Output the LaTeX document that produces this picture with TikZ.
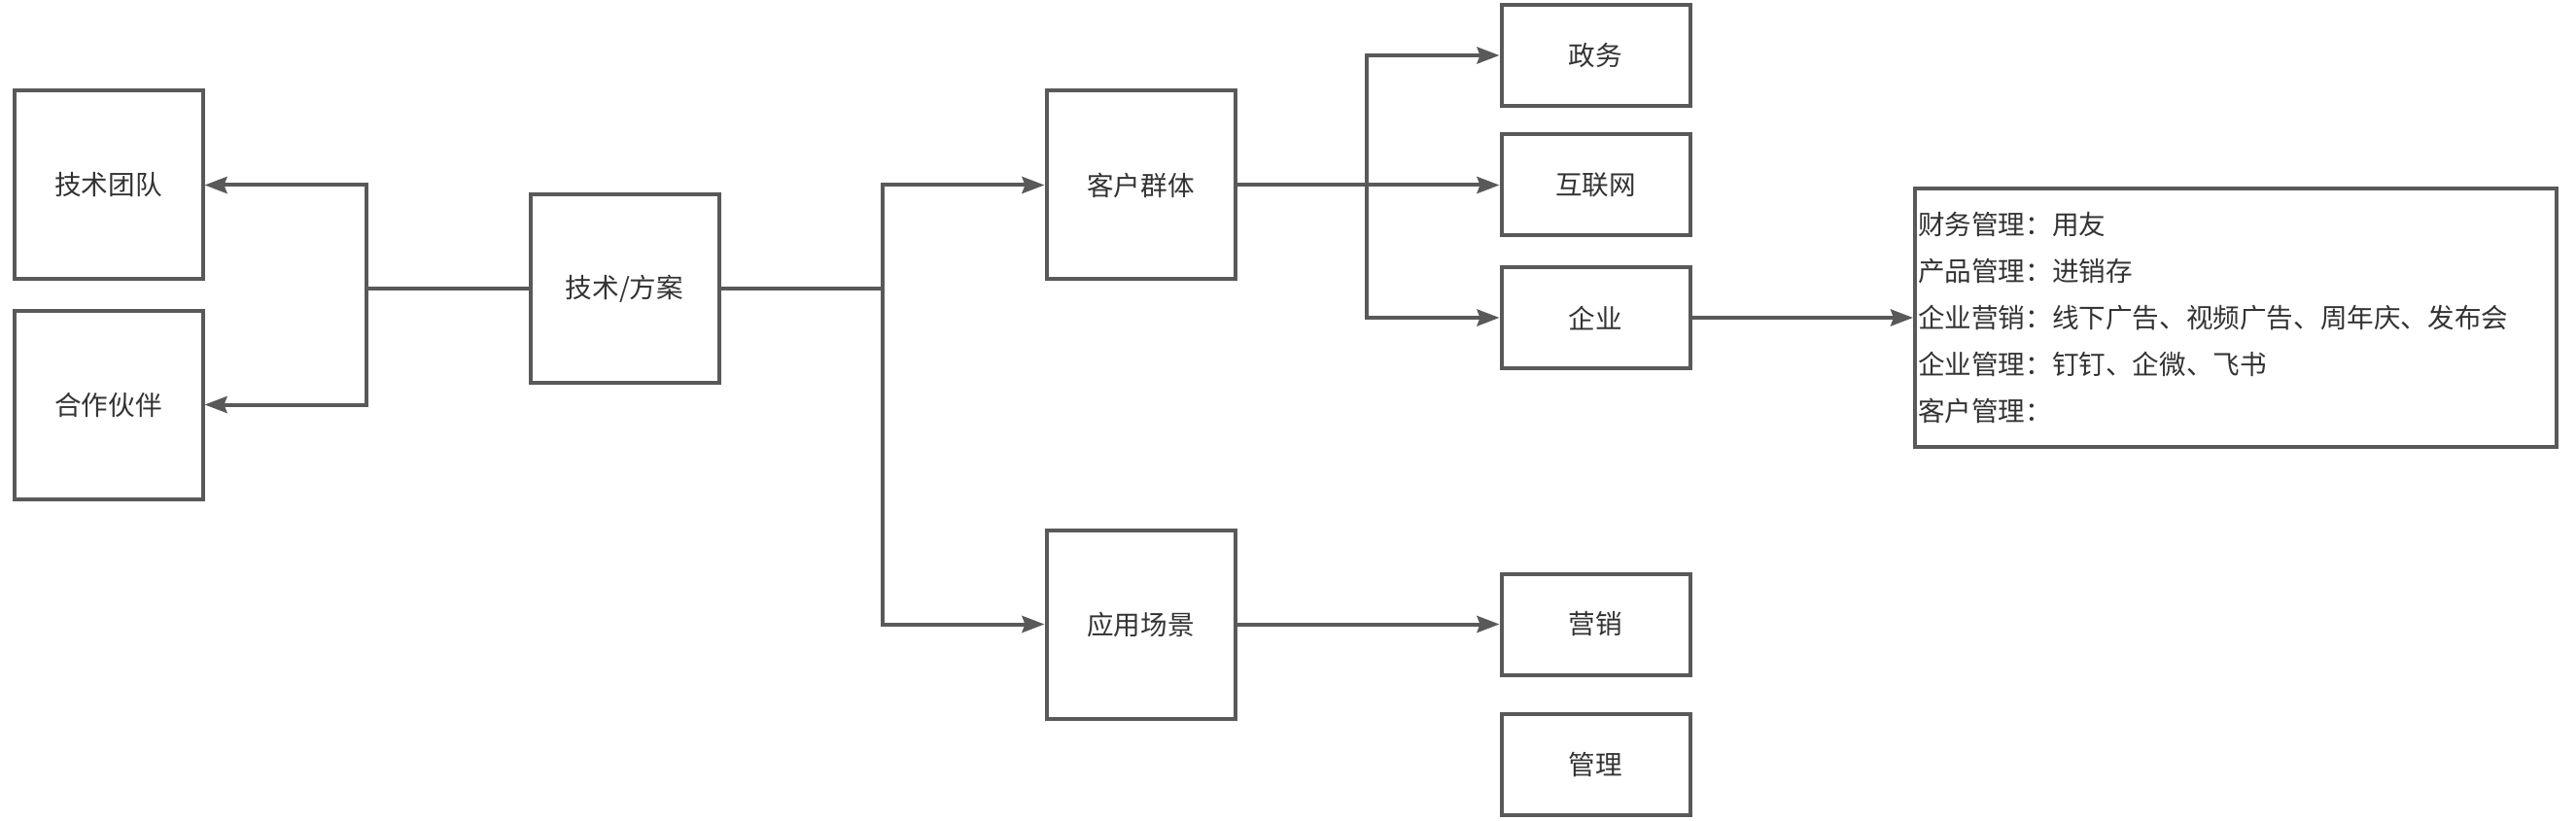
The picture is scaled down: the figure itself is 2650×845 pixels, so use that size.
\documentclass[tikz,border=0pt]{standalone}
\usepackage{fontspec}
\setmainfont{Noto Sans CJK SC}
\usetikzlibrary{arrows.meta}
\definecolor{lineGray}{HTML}{595959}
\definecolor{textGray}{HTML}{333333}

\begin{document}
\begin{tikzpicture}[
  x=0.5pt, y=-0.5pt,
  boxStyle/.style={draw=lineGray, line width=2pt, fill=white, text=textGray, inner sep=0pt,
    font=\fontsize{13.8pt}{16pt}\selectfont, minimum width=97pt, minimum height=97pt},
  flatBoxStyle/.style={boxStyle, minimum height=52pt},
  lineStyle/.style={draw=lineGray, line width=2pt},
  arrowStyle/.style={lineStyle, -{Stealth[length=11.5pt, width=8.5pt, inset=1.5pt]}}]

\useasboundingbox (0,0) rectangle (2650,845);

% left side
\node [boxStyle] (team) at (111.5, 190.5) {技术团队};
\node [boxStyle] (partner) at (111.5, 416.5) {合作伙伴};
\node [boxStyle] (tech) at (642.5, 297) {技术/方案};

% middle
\node [boxStyle] (customer) at (1173.5, 190.5) {客户群体};
\node [boxStyle] (scene) at (1173.5, 642.5) {应用场景};

% right side
\node [flatBoxStyle] (gov) at (1641.5, 57) {政务};
\node [flatBoxStyle] (internet) at (1641.5, 190.5) {互联网};
\node [flatBoxStyle] (enterprise) at (1641.5, 327) {企业};
\node [flatBoxStyle] (marketing) at (1641.5, 642.5) {营销};
\node [flatBoxStyle] (manage) at (1641.5, 787) {管理};

\node [boxStyle, minimum width=330pt, minimum height=133pt, inner xsep=1.5pt, text width=327pt, align=left,
  font=\fontsize{13.8pt}{24pt}\selectfont] (detail) at (2300, 327)
  {财务管理：用友\\产品管理：进销存\\企业营销：线下广告、视频广告、周年庆、发布会\\企业管理：钉钉、企微、飞书\\客户管理：};

\coordinate (leftJoin) at (377, 297);
\coordinate (rightJoin) at (908, 297);
\coordinate (customerJoin) at (1406, 190.5);

\draw [lineStyle] (tech) -- (leftJoin);
\draw [arrowStyle] (leftJoin) |- (team);
\draw [arrowStyle] (leftJoin) |- (partner);

\draw [lineStyle] (tech) -- (rightJoin);
\draw [arrowStyle] (rightJoin) |- (customer);
\draw [arrowStyle] (rightJoin) |- (scene);

\draw [arrowStyle] (customer) -- (internet);
\draw [arrowStyle] (customerJoin) |- (gov);
\draw [arrowStyle] (customerJoin) |- (enterprise);

\draw [arrowStyle] (scene) -- (marketing);
\draw [arrowStyle] (enterprise) -- (detail);
\end{tikzpicture}
\end{document}
